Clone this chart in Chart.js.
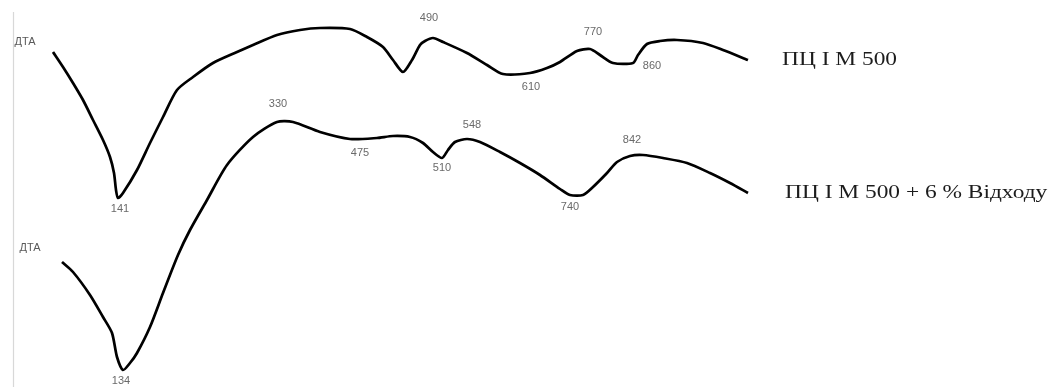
<!DOCTYPE html>
<html>
<head>
<meta charset="utf-8">
<script src="https://cdn.jsdelivr.net/npm/chart.js@4/dist/chart.umd.min.js"></script>
<style>
  html, body { margin: 0; padding: 0; background: #fff; }
  #wrap { position: relative; width: 1057px; height: 387px; }
</style>
</head>
<body>
<div id="wrap"><canvas id="dta"></canvas></div>
<script>
// DTA curve of plain cement ПЦ I М 500 (position along the run, signal in arb. units)
const plainX = [5.3, 6.3, 7.3, 8.3, 9.3, 10.3, 11.0, 11.4, 11.6, 11.8,
                12.3, 13.7, 15.0, 16.3, 17.7, 19.3, 21.3, 23.7, 25.3, 27.7,
                30.0, 32.0, 35.0, 36.7, 38.3, 39.3, 40.3, 41.2, 42.0, 42.5,
                43.3, 44.3, 46.7, 48.7, 50.3, 53.0, 54.7, 56.0, 57.7, 59.0,
                60.0, 61.3, 63.3, 63.8, 64.7, 66.0, 67.7, 70.3, 72.3, 74.8];
const plainSignal = [33.5, 32.0, 30.4, 28.7, 26.7, 24.7, 23.0, 21.4, 19.7, 18.9,
                     19.4, 21.7, 24.4, 27.0, 29.7, 31.0, 32.4, 33.5, 34.2, 35.2,
                     35.7, 35.9, 35.8, 35.0, 34.0, 32.7, 31.5, 32.7, 34.2, 34.6,
                     34.9, 34.5, 33.4, 32.2, 31.3, 31.4, 31.9, 32.5, 33.6, 33.8,
                     33.2, 32.4, 32.4, 33.2, 34.3, 34.6, 34.7, 34.4, 33.7, 32.7];

// DTA curve of cement with 6 % waste additive
const wasteX = [6.2, 7.3, 9.0, 10.3, 11.2, 11.7, 12.3, 13.0, 13.7, 15.0,
                16.3, 17.8, 19.0, 20.7, 22.7, 25.3, 27.7, 29.3, 32.0, 35.0,
                37.7, 39.3, 41.0, 42.3, 43.3, 44.2, 44.8, 45.5, 46.7, 48.0,
                50.0, 52.0, 54.0, 56.0, 57.0, 58.3, 59.3, 60.7, 61.7, 63.0,
                64.3, 66.3, 68.7, 71.0, 73.0, 74.8];
const wasteSignal = [12.5, 11.5, 9.2, 7.0, 5.4, 3.0, 1.7, 2.4, 3.4, 6.0,
                     9.4, 13.2, 15.7, 18.7, 22.2, 25.0, 26.5, 26.5, 25.5, 24.8,
                     24.9, 25.1, 25.0, 24.4, 23.5, 22.9, 23.7, 24.5, 24.8, 24.5,
                     23.5, 22.4, 21.2, 19.8, 19.2, 19.2, 20.0, 21.4, 22.5, 23.1,
                     23.2, 22.9, 22.4, 21.4, 20.4, 19.4];

// Peak temperatures (°C) and the curve point each one belongs to
const plainPeakTemps = ['141', '490', '610', '770', '860'];
const plainPeakIndex = [9, 30, 35, 39, 42];
const wastePeakTemps = ['134', '330', '475', '510', '548', '740', '842'];
const wastePeakIndex = [6, 16, 19, 25, 28, 35, 40];

const seriesNames = ['ПЦ I М 500', 'ПЦ I М 500 + 6 % Відходу'];
const curveTitle = 'ДТА';

// label placement relative to their point, in pixels
const plainPeakShift = [[2, 11], [-4, -20], [1, 14], [3, -17], [19, 3]];
const wastePeakShift = [[-2, 11], [1, -18], [10, 14], [0, 10], [5, -14], [-13, 12], [-11, -15]];
const titleShift = [[-28, -10], [-32, -14]];
const nameShift = [34, 37];

const toPoints = (xs, ys) => xs.map((x, i) => ({ x: x, y: ys[i] }));

const annotate = {
  id: 'dtaText',
  afterDatasetsDraw(chart) {
    const ctx = chart.ctx;
    const xs = chart.scales.x, ys = chart.scales.y;
    ctx.save();

    // left reference line
    ctx.strokeStyle = '#d8d8d8';
    ctx.lineWidth = 1.2;
    const lx = Math.round(xs.getPixelForValue(1.25)) + 0.5;
    ctx.beginPath();
    ctx.moveTo(lx, ys.getPixelForValue(37.5));
    ctx.lineTo(lx, chart.chartArea.bottom);
    ctx.stroke();

    const groups = [
      { meta: chart.getDatasetMeta(0), temps: plainPeakTemps, idx: plainPeakIndex, shift: plainPeakShift },
      { meta: chart.getDatasetMeta(1), temps: wastePeakTemps, idx: wastePeakIndex, shift: wastePeakShift }
    ];

    groups.forEach((g, gi) => {
      const pts = g.meta.data;
      // peak temperatures
      ctx.font = '11px "Liberation Sans", Arial, sans-serif';
      ctx.fillStyle = '#6a6a6a';
      ctx.textAlign = 'center';
      ctx.textBaseline = 'middle';
      g.temps.forEach((t, k) => {
        const p = pts[g.idx[k]];
        ctx.fillText(t, p.x + g.shift[k][0], p.y + g.shift[k][1]);
      });
      // curve title at the start
      const first = pts[0];
      ctx.font = '11px "Liberation Sans", Arial, sans-serif';
      ctx.fillStyle = '#5a5a5a';
      ctx.fillText(curveTitle, first.x + titleShift[gi][0], first.y + titleShift[gi][1]);
      // series name at the end, set a little wide
      const last = pts[pts.length - 1];
      ctx.save();
      ctx.translate(last.x + nameShift[gi], last.y);
      ctx.scale(1.3, 1);
      ctx.font = '18px "Liberation Serif", "Times New Roman", serif';
      ctx.fillStyle = '#1c1c1c';
      ctx.textAlign = 'left';
      ctx.fillText(seriesNames[gi], 0, 0);
      ctx.restore();
    });
    ctx.restore();
  }
};

const lineStyle = {
  showLine: true,
  borderColor: '#000',
  borderWidth: 2.7,
  pointRadius: 0,
  tension: 0.25,
  fill: false
};

new Chart(document.getElementById('dta'), {
  type: 'scatter',
  data: {
    datasets: [
      Object.assign({ label: seriesNames[0], data: toPoints(plainX, plainSignal) }, lineStyle),
      Object.assign({ label: seriesNames[1], data: toPoints(wasteX, wasteSignal) }, lineStyle)
    ]
  },
  options: {
    responsive: true,
    maintainAspectRatio: false,
    animation: false,
    layout: { padding: 0 },
    plugins: { legend: { display: false }, tooltip: { enabled: false } },
    scales: {
      x: { type: 'linear', min: 0, max: 105.7, display: false },
      y: { type: 'linear', min: 0, max: 38.7, display: false }
    }
  },
  plugins: [annotate]
});
</script>
</body>
</html>
